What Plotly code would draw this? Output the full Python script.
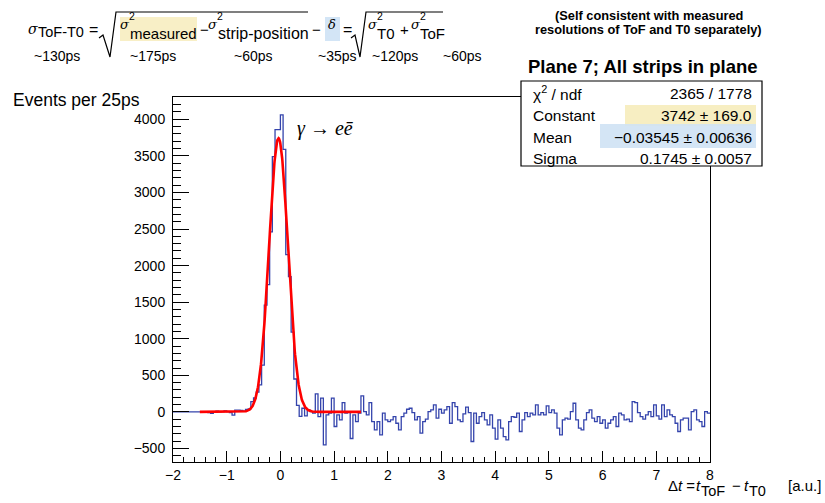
import numpy as np
import plotly.graph_objects as go

# ---------------- data ----------------
hist_x_min = -2.0          # lower edge of first bin
hist_bin_width = 0.05      # 25 ps per bin

counts_flat = [0, 0, 0, 0, 0, 0, 0, 0, 0, 0,
               0, 0, 5, -10, -20, 0, 10, 0, 5, 15, 5, -10, -45, 25, 25, 20, 10, 35]
counts_peak = [40, 140, 190, 270, 370, 640, 1460, 1740, 2460, 3490, 3860, 3860,
               4060, 3590, 2150, 1850, 1090, 450, 90, -60, 50]
counts_near = [-55, 27, 5, -18, 246, -64, 187, -450, -41, -18, 187, -200, -41, -109,
               127, -18, 5, -364, -41, -132, -18, 218, 5, -41, 127, -132, -246, -132, -314]
counts_tail = [-18, -109, -132, -109, -64, -155, -246, -64, -18, 36, 50, -9, -109, -64,
               -291, -132, -100, 5, 27, 96, -86, 36, -18, 27, 73, -155, 127, 73, -109,
               -132, -27, 64, -9, -405, -18, -155, -64, -9, -109, -177, -41, -223, -373,
               -109, -223, -337, -382, -132, -64, -73, -18, -268, -109, -9, -64, -18, -41,
               96, -41, -9, -41, 82, -9, 27, -18, -223, -314, -109, -86, -100, 5, 118,
               -109, -223, -246, -109, -9, 27, -86, -132, -64, -155, -109, -223, -155,
               -109, -64, -200, -18, -41, -109, -100, -132, 141, 127, -9, -64, -100, -41,
               5, -64, 96, -55, -100, 96, -64, 27, -41, -64, -155, -268, -109, -86, -86,
               -246, 5, 27, -109, -132, -200, 5, -18]
counts = counts_flat + counts_peak + counts_near + counts_tail

# Gaussian fit result
fit_constant, fit_constant_err = 3742, 169.0
fit_mean, fit_mean_err = -0.03545, 0.00636
fit_sigma, fit_sigma_err = 0.1745, 0.0057
fit_chi2, fit_ndf = 2365, 1778
fit_range = (-1.5, 1.5)

x_ticks = [-2, -1, 0, 1, 2, 3, 4, 5, 6, 7, 8]
y_ticks = [-500, 0, 500, 1000, 1500, 2000, 2500, 3000, 3500, 4000]

# ---------------- geometry helpers ----------------
W, H = 825, 503
PL, PR, PT, PB = 173, 710, 97, 462


def fx(px):
    return (px - PL) / (PR - PL)


def fy(py):
    return (PB - py) / (PB - PT)


SANS = "Liberation Sans, Arial, Helvetica, sans-serif"
SERIF = "Liberation Serif, Times New Roman, serif"
GREEK = "DejaVu Serif, serif"

annotations = []
shapes = []


def text(px, py, s, size=15, family=SANS, xanchor="left", color="black"):
    annotations.append(dict(
        x=fx(px), y=fy(py), xref="paper", yref="paper", text=s, showarrow=False,
        xanchor=xanchor, yanchor="middle", font=dict(size=size, family=family, color=color),
        borderpad=0))


def rect(x0, y0, x1, y1, fill, line=None, opacity=1.0, layer="above"):
    shapes.append(dict(
        type="rect", xref="paper", yref="paper", x0=fx(x0), x1=fx(x1), y0=fy(y1), y1=fy(y0),
        fillcolor=fill, opacity=opacity, layer=layer,
        line=dict(width=1.2 if line else 0, color=line or "rgba(0,0,0,0)")))


def polyline(points, width=1.2, color="black"):
    path = "M " + " L ".join(f"{fx(a):.5f},{fy(b):.5f}" for a, b in points)
    shapes.append(dict(type="path", xref="paper", yref="paper", path=path,
                       line=dict(width=width, color=color), layer="above"))


# ---------------- traces ----------------
edges = hist_x_min + hist_bin_width * np.arange(len(counts) + 1)
step_x = list(edges)
step_y = counts + [counts[-1]]

fig = go.Figure()
fig.add_trace(go.Scatter(
    x=step_x, y=step_y, mode="lines", line_shape="hv",
    line=dict(color="#3444ac", width=1.3), hoverinfo="skip", showlegend=False))

fx_curve = np.linspace(fit_range[0], fit_range[1], 600)
fy_curve = fit_constant * np.exp(-0.5 * ((fx_curve - fit_mean) / fit_sigma) ** 2)
fig.add_trace(go.Scatter(
    x=fx_curve, y=fy_curve, mode="lines",
    line=dict(color="#ff0000", width=2.6), hoverinfo="skip", showlegend=False))

# ---------------- formula header ----------------
rect(120, 17, 197, 41, "#f8efc6", layer="below")
rect(325, 17, 340, 41, "#d3e5f6", layer="below")

text(27, 29, "<i>σ</i>", 14, GREEK)
text(37, 32, "ToF-T0", 14.5)
text(88, 29, "=", 16)
polyline([(99, 38), (103, 35), (110, 57), (116, 12), (308, 12)])
text(119, 25, "<i>σ</i>", 13, GREEK)
text(128, 16, "2", 10.5)
text(129, 34, "measured", 15)
text(199, 29, "−", 15)
text(207, 25, "<i>σ</i>", 13, GREEK)
text(216, 16, "2", 10.5)
text(217, 34, "strip-position", 16)
text(311, 29, "−", 15)
text(327, 25, "<i>δ</i>", 13, GREEK)
text(342, 29, "=", 16)
polyline([(351, 38), (355, 35), (360, 57), (366, 12), (443, 12)])
text(367, 25, "<i>σ</i>", 13, GREEK)
text(376, 16, "2", 10.5)
text(376, 34, "T0", 15)
text(399, 29, "+", 15)
text(410, 25, "<i>σ</i>", 13, GREEK)
text(419, 16, "2", 10.5)
text(419, 34, "ToF", 15)

for cx, lab in [(57, "~130ps"), (153, "~175ps"), (253, "~60ps"),
                (337, "~35ps"), (395, "~120ps"), (462, "~60ps")]:
    text(cx, 56, lab, 14, xanchor="center")

text(649, 15, "<b>(Self consistent with measured</b>", 12.8, xanchor="center")
text(648, 29, "<b>resolutions of ToF and T0 separately)</b>", 12.8, xanchor="center")

# ---------------- stats box ----------------
text(643, 66, "<b>Plane 7; All strips in plane</b>", 18.5, xanchor="center")
rect(521, 81, 762, 166, "white", line="black")
rect(625, 105, 756, 126, "#f7eec2")
rect(600, 124, 756, 148, "#cfe2f4", opacity=0.9)

stat_rows = [
    ("χ<sup>2</sup> / ndf", f"{fit_chi2} / {fit_ndf}", 93),
    ("Constant", f"{fit_constant} ± {fit_constant_err:.1f}", 115),
    ("Mean", f"−{abs(fit_mean):.5f} ± {fit_mean_err:.5f}", 137),
    ("Sigma", f"{fit_sigma:.4f} ± {fit_sigma_err:.4f}", 158),
]
for lab, val, yy in stat_rows:
    text(532, yy, lab, 15.5)
    text(753, yy, val, 15.5, xanchor="right")

# ---------------- axis titles / labels ----------------
text(12, 100, "Events per 25ps", 17.5)
text(296, 128, "<i>γ</i> → <i>eē</i>", 20, SERIF)

# x-axis title, written piece by piece so the subscripts keep a full size
text(667, 485, "Δ<i>t</i> =", 15)
text(695, 485, "<i>t</i>", 15)
text(700, 491, "ToF", 14.5)
text(731, 485, "−", 15)
text(743, 485, "<i>t</i>", 15)
text(748, 491, "T0", 14.5)
text(787, 485, "[a.u.]", 15)

fig.update_layout(
    width=W, height=H,
    margin=dict(l=PL, r=W - PR, t=PT, b=H - PB),
    paper_bgcolor="white", plot_bgcolor="white",
    annotations=annotations, shapes=shapes,
    font=dict(family=SANS, size=14, color="black"),
    xaxis=dict(
        range=[-2, 8], tickvals=x_ticks, ticks="inside", ticklen=11, tickwidth=1,
        tickcolor="black", showline=True, linecolor="black", linewidth=1, mirror=True,
        showgrid=False, zeroline=False, tickfont=dict(size=14, family=SANS),
        minor=dict(dtick=0.2, ticks="inside", ticklen=5.5, tickcolor="black", showgrid=False),
        ticklabelstandoff=0),
    yaxis=dict(
        range=[-685, 4305], tickvals=y_ticks, ticks="inside", ticklen=16, tickwidth=1,
        tickcolor="black", showline=True, linecolor="black", linewidth=1, mirror=True,
        showgrid=False, zeroline=False, tickfont=dict(size=14, family=SANS),
        minor=dict(dtick=100, ticks="inside", ticklen=8, tickcolor="black", showgrid=False),
        ticklabelstandoff=4),
)

fig.write_html("out.html")
